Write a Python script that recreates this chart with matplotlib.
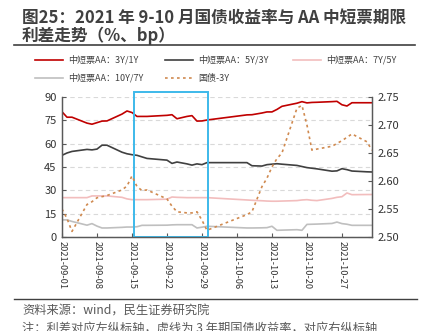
import matplotlib
matplotlib.use('Agg')

import pandas as pd
import matplotlib.pyplot as plt
import matplotlib.dates as mdates
from matplotlib.lines import Line2D
from matplotlib.patches import Rectangle

plt.rcParams['font.family'] = ['Noto Sans CJK SC', 'DejaVu Sans']

# trading days
dates = ['2021-09-01', '2021-09-02', '2021-09-03', '2021-09-06', '2021-09-07', '2021-09-08',
         '2021-09-09', '2021-09-10', '2021-09-13', '2021-09-14', '2021-09-15', '2021-09-16',
         '2021-09-17', '2021-09-18', '2021-09-22', '2021-09-23', '2021-09-24', '2021-09-26',
         '2021-09-27', '2021-09-28', '2021-09-29', '2021-09-30', '2021-10-08', '2021-10-09',
         '2021-10-11', '2021-10-12', '2021-10-13', '2021-10-14', '2021-10-15', '2021-10-18',
         '2021-10-19', '2021-10-20', '2021-10-21', '2021-10-22', '2021-10-25', '2021-10-26',
         '2021-10-27', '2021-10-28', '2021-10-29', '2021-11-01', '2021-11-02']

s_3y1y = [80.5, 77.0, 77.0, 73.2, 72.5, 73.5, 74.5, 74.6, 79.0, 81.0, 80.0, 77.5,
          77.5, 77.5, 78.2, 78.6, 76.0, 77.5, 78.0, 74.5, 74.6, 75.2, 78.5, 78.6,
          79.7, 80.4, 80.4, 82.0, 84.0, 86.0, 87.0, 86.2, 86.5, 86.6, 87.0, 87.2,
          85.0, 84.2, 86.3, 86.3, 86.3]

s_5y3y = [52.5, 54.0, 55.0, 56.3, 56.0, 56.5, 59.0, 59.0, 54.5, 53.5, 52.9, 52.5,
          51.5, 50.5, 49.4, 47.3, 48.2, 47.0, 46.2, 47.0, 46.5, 47.8, 47.8, 45.8,
          45.6, 46.5, 46.8, 47.1, 46.8, 46.0, 45.3, 44.6, 44.2, 43.8, 42.3, 42.5,
          43.9, 43.3, 42.4, 41.9, 41.8]

s_7y5y = [25.3, 25.3, 25.3, 25.3, 26.4, 26.4, 26.4, 26.4, 25.5, 24.5, 24.0, 24.0,
          24.0, 24.0, 24.3, 25.7, 25.5, 25.3, 25.3, 25.3, 25.3, 25.3, 23.8, 23.6,
          23.3, 23.1, 23.0, 23.0, 23.1, 23.4, 23.8, 24.0, 23.6, 23.4, 24.8, 25.5,
          25.9, 28.3, 27.2, 27.3, 27.3]

s_10y7y = [11.0, 11.0, 10.0, 7.6, 8.6, 7.0, 5.8, 5.8, 6.2, 6.4, 6.4, 6.6,
           7.5, 7.5, 7.6, 7.8, 7.9, 7.9, 7.9, 5.8, 6.3, 6.9, 5.8, 5.8,
           5.9, 6.0, 6.9, 4.3, 4.4, 4.7, 4.3, 8.1, 8.2, 8.3, 8.7, 9.6,
           8.6, 8.2, 7.5, 7.5, 7.5]

gz_3y = [2.550, 2.533, 2.510, 2.558, 2.563, 2.570, 2.572, 2.574, 2.584, 2.591, 2.609, 2.590,
         2.583, 2.584, 2.568, 2.555, 2.545, 2.543, 2.543, 2.545, 2.530, 2.512, 2.540, 2.545,
         2.590, 2.605, 2.625, 2.640, 2.650, 2.730, 2.735, 2.700, 2.655, 2.657, 2.662, 2.667,
         2.672, 2.678, 2.684, 2.670, 2.655]

labels = ['中短票AA：3Y/1Y', '中短票AA：5Y/3Y', '中短票AA：7Y/5Y', '中短票AA：10Y/7Y', '国债-3Y']
colors = ['#C00000', '#404040', '#F2BDBD', '#BFBFBF', '#D08A50']
dots = (0, (1.6, 2.0))

x = pd.to_datetime(dates)

fig = plt.figure(figsize=(4.29, 3.31), dpi=100)
ax = fig.add_axes([0.1445, 0.284, 0.7225, 0.423])
ax2 = ax.twinx()

ax.plot(x, s_7y5y, color=colors[2], lw=1.2)
ax.plot(x, s_10y7y, color=colors[3], lw=1.2)
ax.plot(x, s_5y3y, color=colors[1], lw=1.2)
ax.plot(x, s_3y1y, color=colors[0], lw=1.2)
ax2.plot(x, gz_3y, color=colors[4], lw=1.2, ls=dots)

ax.set_ylim(0, 90)
ax.set_yticks(range(0, 91, 15))
ax2.set_ylim(2.50, 2.75)
ax2.set_yticks([2.50, 2.55, 2.60, 2.65, 2.70, 2.75])
ax2.yaxis.set_major_formatter(matplotlib.ticker.FormatStrFormatter('%.2f'))
ax.set_xlim(pd.Timestamp('2021-09-01'), pd.Timestamp('2021-11-02'))
ax.xaxis.set_major_locator(mdates.WeekdayLocator(byweekday=mdates.WE))
ax.xaxis.set_major_formatter(mdates.DateFormatter('%Y-%m-%d'))

ax.grid(axis='y', color='#D9D9D9', ls=(0, (4, 3)), lw=0.8)
ax.set_axisbelow(True)

for a in (ax, ax2):
    a.spines['top'].set_visible(False)
    for s in ('left', 'right', 'bottom'):
        a.spines[s].set_color('#595959')
        a.spines[s].set_linewidth(0.9)
    a.tick_params(direction='in', length=3, color='#595959', labelsize=8,
                  labelcolor='#333333', pad=4)
ax.tick_params(axis='x', labelsize=6.7, labelrotation=270, pad=3)
for t in ax.get_xticklabels():
    t.set_va('top')
    t.set_ha('center')

# highlight box
x0 = mdates.date2num(pd.Timestamp('2021-09-15 10:00'))
x1 = mdates.date2num(pd.Timestamp('2021-09-30 05:00'))
ax.add_patch(Rectangle((x0, 0), x1 - x0, 93.2, fill=False, ec='#3DB9EA',
                       lw=1.4, clip_on=False, zorder=5))

# title
W, H = 429, 331
def fx(px):
    return px / W
def fy(py):
    return 1 - py / H

fig.text(fx(22), fy(17.5), '图25：2021 年 9-10 月国债收益率与 AA 中短票期限',
         fontsize=12, fontweight='bold', color='#404040', va='center', ha='left')
fig.text(fx(22), fy(36), '利差走势（%、bp）',
         fontsize=12, fontweight='bold', color='#404040', va='center', ha='left')
fig.add_artist(Line2D([fx(14), fx(415)], [fy(44.5), fy(44.5)], color='#404040', lw=1.2))

# legend
pos = [(35, 60), (165, 60), (293, 60), (35, 78), (165, 78)]
for i, (px, py) in enumerate(pos):
    ls = dots if i == 4 else '-'
    fig.add_artist(Line2D([fx(px), fx(px + 28)], [fy(py), fy(py)], color=colors[i], lw=1.2, ls=ls))
    fig.text(fx(px + 33), fy(py), labels[i], fontsize=6.5, color='#404040', va='center', ha='left')

# footer
fig.add_artist(Line2D([fx(14), fx(417)], [fy(299), fy(299)], color='#404040', lw=1.0))
fig.text(fx(22), fy(311), '资料来源：wind，民生证券研究院', fontsize=8.8, color='#595959',
         va='center', ha='left')
fig.text(fx(22), fy(328), '注：利差对应左纵标轴，虚线为 3 年期国债收益率，对应右纵标轴',
         fontsize=8.8, color='#595959', va='center', ha='left')

fig.savefig('out.png', dpi=100)
